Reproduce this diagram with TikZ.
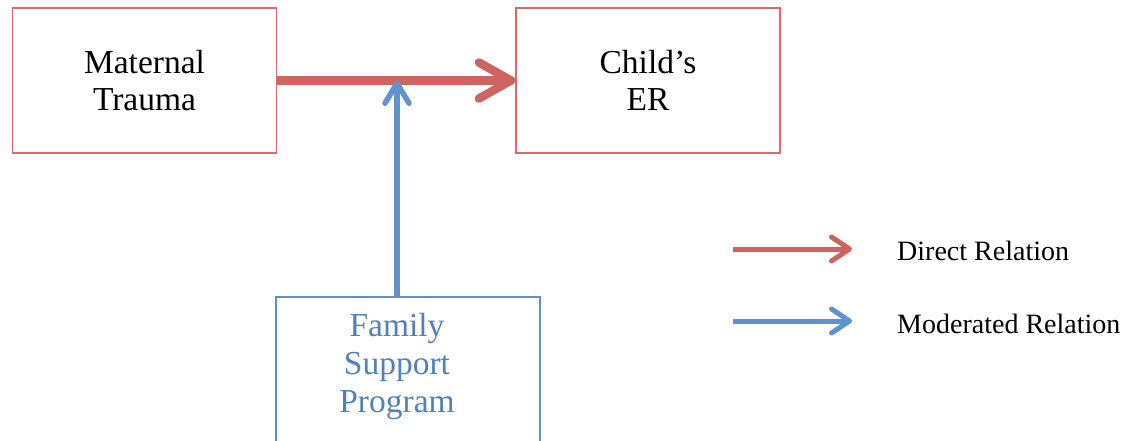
\documentclass[tikz,border=0pt]{standalone}
\usepackage{fontspec}
\setmainfont{Liberation Serif}
\usetikzlibrary{arrows.meta}
\definecolor{redarrow}{RGB}{206,100,95}
\definecolor{bluearrow}{RGB}{96,146,204}
\definecolor{redbox}{RGB}{212,108,104}
\definecolor{bluebox}{RGB}{98,145,200}
\definecolor{bluetext}{RGB}{79,129,189}
\tikzset{
  redbx/.style={draw=redbox, line width=1.6pt, minimum width=264pt, minimum height=145pt, inner sep=0pt,
    align=center, font=\fontsize{33.5}{37}\selectfont},
  bluebx/.style={draw=bluebox, line width=1.6pt, minimum width=264pt, minimum height=170pt, inner sep=0pt},
  bluetxt/.style={text=bluetext, align=center, inner sep=0pt, font=\fontsize{33.5}{38}\selectfont},
  redarr/.style={draw=redarrow, line width=8.5pt, -{Straight Barb[length=32pt,width=36pt,round]}},
  bluearr/.style={draw=bluearrow, line width=5.5pt, -{Straight Barb[length=20pt,width=24pt,round]}},
  legred/.style={draw=redarrow, line width=5pt, -{Straight Barb[length=18pt,width=24pt,round]}},
  legblue/.style={draw=bluearrow, line width=5pt, -{Straight Barb[length=18pt,width=24pt,round]}},
  legtxt/.style={inner sep=0pt, anchor=base west, font=\fontsize{28}{30}\selectfont}
}
\begin{document}
\begin{tikzpicture}[x=1pt,y=-1pt]
\useasboundingbox (0,0) rectangle (1139,441);
\clip (0,0) rectangle (1139,441);
\node[redbx] (trauma) at (144.5,80.5) {Maternal\\Trauma};
\node[redbx] (child) at (648,80.5) {Child’s\\ER};
\node[bluebx] (fam) at (408,382) {};
\node[bluetxt] (famtext) at (397,366) {Family\\Support\\Program};
\draw[redarr] (trauma.east) -- (child.west);
\draw[bluearr] (famtext.center |- fam.north) -- (famtext.center |- trauma.east);
\coordinate (l1a) at (733,249);
\coordinate (l1b) at (852,249);
\coordinate (l2a) at (733,321);
\coordinate (l2b) at (852,321);
\draw[legred] (l1a) -- (l1b);
\draw[legblue] (l2a) -- (l2b);
\node[legtxt] (ldirect) at (897,260) {Direct Relation};
\node[legtxt] (lmod) at (897,333) {Moderated Relation};
\end{tikzpicture}
\end{document}
